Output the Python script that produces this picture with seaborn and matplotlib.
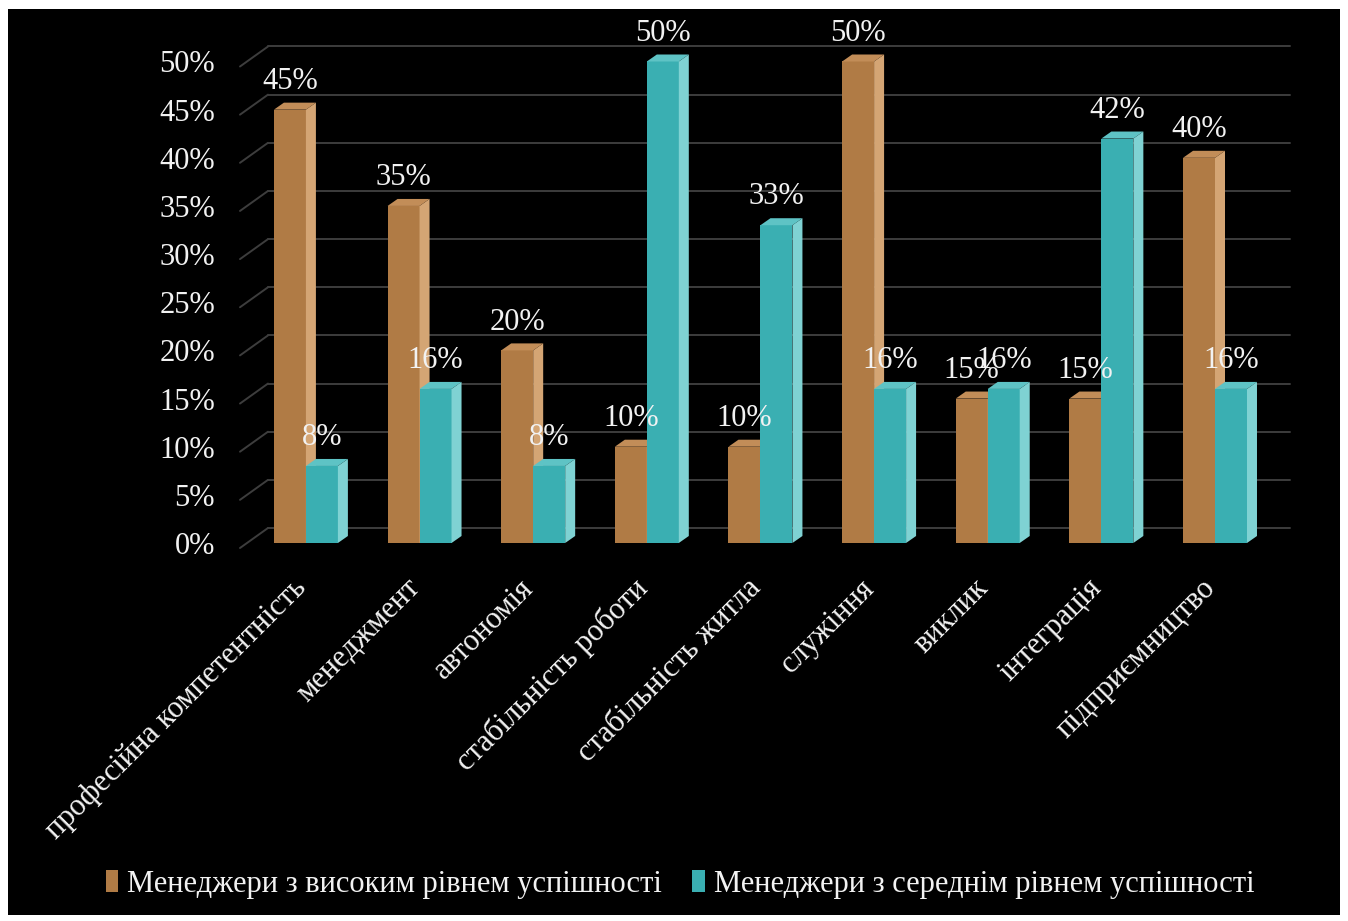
import numpy as np
import pandas as pd
import matplotlib
matplotlib.use("Agg")
import matplotlib.pyplot as plt
import matplotlib.transforms as mtransforms
from matplotlib.patches import Polygon, Patch, Rectangle
import seaborn as sns

# data
categories = ["професійна компетентність", "менеджмент", "автономія",
              "стабільність роботи", "стабільність житла", "служіння",
              "виклик", "інтеграція", "підприємництво"]
high_success = [45, 35, 20, 10, 10, 50, 15, 15, 40]
mid_success = [8, 16, 8, 50, 33, 16, 16, 42, 16]
series_names = ["Менеджери з високим рівнем успішності",
                "Менеджери з середнім рівнем успішності"]
y_ticks = [0, 5, 10, 15, 20, 25, 30, 35, 40, 45, 50]

# colours: front, side, top faces
BROWN = ("#B07B45", "#D4A574", "#C28D58")
TEAL = ("#3AAFB2", "#7FD2D3", "#5EC3C5")
GRID = "#3d3d3d"
TEXT = "#f2f2f2"

sns.set_theme(style="dark")
plt.rcParams["font.family"] = ["Liberation Serif", "DejaVu Serif"]

W, H = 1348, 921
fig = plt.figure(figsize=(W / 100, H / 100), dpi=100, facecolor="white")
# black chart area inside a thin white frame
fig.patches.append(Rectangle((8 / W, 6 / H), (1340 - 8) / W, (912 - 6) / H,
                             transform=fig.transFigure, facecolor="black",
                             edgecolor="none", zorder=-10))

# axes geometry (pixels)
PX_PER_UNIT = 9.63          # pixels per 1 %
x_left_px, x_right_px = 240, 1290
base_px = 543
y_top = 56
ax = fig.add_axes([x_left_px / W, (H - base_px) / H,
                   (x_right_px - x_left_px) / W, y_top * PX_PER_UNIT / H])
ax.set_facecolor("none")
x0, x1 = -0.58, 8.66

df = pd.DataFrame({
    "category": categories * 2,
    "value": high_success + mid_success,
    "series": [series_names[0]] * len(categories) + [series_names[1]] * len(categories),
})
sns.barplot(data=df, x="category", y="value", hue="series",
            palette=[BROWN[0], TEAL[0]], saturation=1, width=0.563,
            gap=0, legend=False, ax=ax, zorder=3)
ax.set_xlim(x0, x1)
ax.set_ylim(0, y_top)

# unit conversions for the pseudo-3D offsets
px_x = (x1 - x0) / (x_right_px - x_left_px)   # data units per pixel in x
px_y = 1 / PX_PER_UNIT                          # data units per pixel in y

# back wall gridlines with the left diagonal
front_dy, back_dx, back_dy = -5 * px_y, 28 * px_x, 15 * px_y
for v in y_ticks:
    ax.plot([x0, x0 + back_dx], [v + front_dy, v + back_dy], color=GRID,
            lw=1.4, zorder=1, clip_on=False)
    ax.plot([x0 + back_dx, x1], [v + back_dy, v + back_dy], color=GRID,
            lw=1.4, zorder=1, clip_on=False)

# side and top faces of bars
dx, dy = 10 * px_x, 7 * px_y
z = 3
for cont, cols in zip(ax.containers, [BROWN, TEAL]):
    for bar in cont:
        bx0 = bar.get_x()
        bx1 = bx0 + bar.get_width()
        h = bar.get_height()
        bar.set_zorder(z)
        bar.set_edgecolor("none")
        side = Polygon([(bx1, 0), (bx1 + dx, dy), (bx1 + dx, h + dy), (bx1, h)],
                       closed=True, facecolor=cols[1], edgecolor="none", zorder=z + 0.1)
        top = Polygon([(bx0, h), (bx1, h), (bx1 + dx, h + dy), (bx0 + dx, h + dy)],
                      closed=True, facecolor=cols[2], edgecolor="none", zorder=z + 0.2)
        ax.add_patch(side)
        ax.add_patch(top)
        ax.annotate(f"{h:.0f}%", xy=(bx0 + bar.get_width() / 2, h), xytext=(0, 10),
                    textcoords="offset points", ha="center", va="bottom",
                    color=TEXT, fontsize=22, zorder=10)
    z += 1

# axes styling
for s in ax.spines.values():
    s.set_visible(False)
ax.grid(False)
ax.set_xlabel("")
ax.set_ylabel("")
ax.set_yticks(y_ticks)
ax.set_yticklabels([f"{v}%" for v in y_ticks], fontsize=22, color=TEXT)
shift = mtransforms.ScaledTranslation(0, -5 / 100, fig.dpi_scale_trans)
for lbl in ax.get_yticklabels():
    lbl.set_transform(lbl.get_transform() + shift)
ax.tick_params(axis="y", length=0, pad=18)
ax.set_xticks(range(len(categories)))
ax.set_xticklabels(categories, rotation=45, ha="right", rotation_mode="anchor",
                   fontsize=22, color=TEXT)
ax.tick_params(axis="x", length=0, pad=22)
xshift = mtransforms.ScaledTranslation(-14 / 100, 0, fig.dpi_scale_trans)
for lbl in ax.get_xticklabels():
    lbl.set_transform(lbl.get_transform() + xshift)

handles = [Patch(facecolor=BROWN[0], edgecolor="none", label=series_names[0]),
           Patch(facecolor=TEAL[0], edgecolor="none", label=series_names[1])]
leg = fig.legend(handles=handles, loc="center", bbox_to_anchor=(680 / W, 1 - 884 / H),
                 ncol=2, frameon=False, fontsize=22, handlelength=0.4,
                 handleheight=0.75, handletextpad=0.3, columnspacing=1.0)
for t in leg.get_texts():
    t.set_color(TEXT)

fig.savefig("out.png", dpi=100, facecolor=fig.get_facecolor())
